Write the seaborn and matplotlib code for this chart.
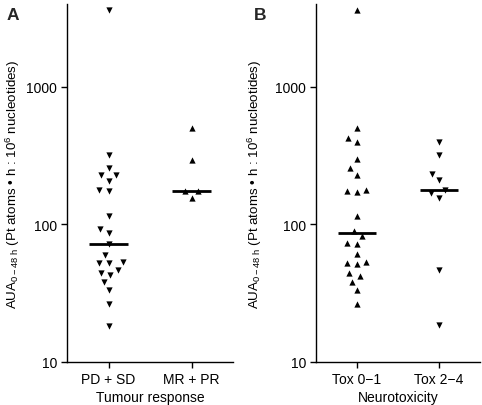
import numpy as np
import pandas as pd
import matplotlib
matplotlib.use("Agg")
import matplotlib.pyplot as plt
from matplotlib.collections import PathCollection
import seaborn as sns

# ---------------- data ----------------
resp_categories = ["PD + SD", "MR + PR"]
pd_sd = [3600, 320, 255, 230, 230, 208, 179, 176, 116, 92, 86, 72.5,
         60, 53.6, 52, 52, 47, 43, 44.6, 38.4, 33.6, 26.5, 18.4]
mr_pr = [503, 296, 174, 174, 156]

tox_categories = ["Tox 0\u22121", "Tox 2\u22124"]
tox01 = [3600, 503, 426, 398, 298, 255, 230, 177.6, 176, 173, 116, 90.2,
         82.5, 73.4, 72.5, 60.6, 53.2, 52.3, 51.3, 44.2, 42.3, 38.2, 33.4, 26.2]
tox24 = [394, 318, 232, 209, 177.6, 170, 156.6, 46.9, 18.5]

y_ticks = [10, 100, 1000]
y_ticklabels = ["10", "100", "1000"]

# ---------------- style ----------------
sns.set_theme(style="ticks")
plt.rcParams["font.family"] = ["Liberation Sans", "DejaVu Sans"]
plt.rcParams["mathtext.fontset"] = "custom"
plt.rcParams["mathtext.rm"] = "Liberation Sans"
plt.rcParams["mathtext.it"] = "Liberation Sans:italic"
plt.rcParams["mathtext.bf"] = "Liberation Sans:bold"

fig = plt.figure(figsize=(4.82, 4.06), dpi=100)
W, H = 482, 406
axA = fig.add_axes([67 / W, (H - 363) / H, 166 / W, 358 / H])
axB = fig.add_axes([316 / W, (H - 363) / H, 164 / W, 358 / H])

ylabel = "AUA$_{0-48\\ \\mathrm{h}}$ (Pt atoms \u2022 h : 10$^{6}$ nucleotides)"

LAYOUT_SIZE = 6.6   # spacing used by the swarm layout
MARK_SIZE = 4.5     # final drawn marker size


def panel(ax, cats, groups, markers, xlabel, label_x):
    ax.set_yscale("log")
    ax.set_ylim(10, 4000)
    for cat, vals, mk in zip(cats, groups, markers):
        df = pd.DataFrame({"group": [cat] * len(vals), "value": vals})
        sns.swarmplot(data=df, x="group", y="value", order=cats, ax=ax,
                      marker=mk, color="black", size=LAYOUT_SIZE, linewidth=0)
    for i, vals in enumerate(groups):
        ax.hlines(np.median(vals), i - 0.23, i + 0.23, color="black", lw=2.0,
                  zorder=1)
    ax.set_xlim(-0.5, 1.5)
    ax.set_ylim(10, 4000)
    ax.set_yticks(y_ticks)
    ax.set_yticklabels(y_ticklabels)
    ax.yaxis.set_minor_locator(matplotlib.ticker.NullLocator())
    ax.tick_params(axis="both", direction="out", length=4, width=1.0,
                   labelsize=10, pad=3, color="black", labelcolor="black")
    for s in ["top", "right"]:
        ax.spines[s].set_visible(False)
    for s in ["left", "bottom"]:
        ax.spines[s].set_linewidth(1.0)
        ax.spines[s].set_color("black")
    ax.set_xlabel(xlabel, fontsize=10, labelpad=3, color="black")
    ax.set_ylabel(ylabel, fontsize=9.6, color="black")
    ax.yaxis.set_label_coords(label_x, 0.5)


panel(axA, resp_categories, [pd_sd, mr_pr], ["v", "^"], "Tumour response",
      (22 - 67) / 166)
panel(axB, tox_categories, [tox01, tox24], ["^", "v"], "Neurotoxicity",
      (264 - 316) / 164)

fig.text(7 / W, 1 - 20 / H, "A", fontsize=12.5, fontweight="bold", va="baseline")
fig.text(254 / W, 1 - 20 / H, "B", fontsize=12.5, fontweight="bold", va="baseline")

# lay out the swarm once with wider spacing, then freeze and shrink the markers
fig.canvas.draw()
for ax in (axA, axB):
    for coll in ax.collections:
        if not isinstance(coll, PathCollection):
            continue
        if "draw" in coll.__dict__:
            del coll.draw
        coll.set_sizes([MARK_SIZE ** 2])

fig.savefig("out.png", dpi=100)
